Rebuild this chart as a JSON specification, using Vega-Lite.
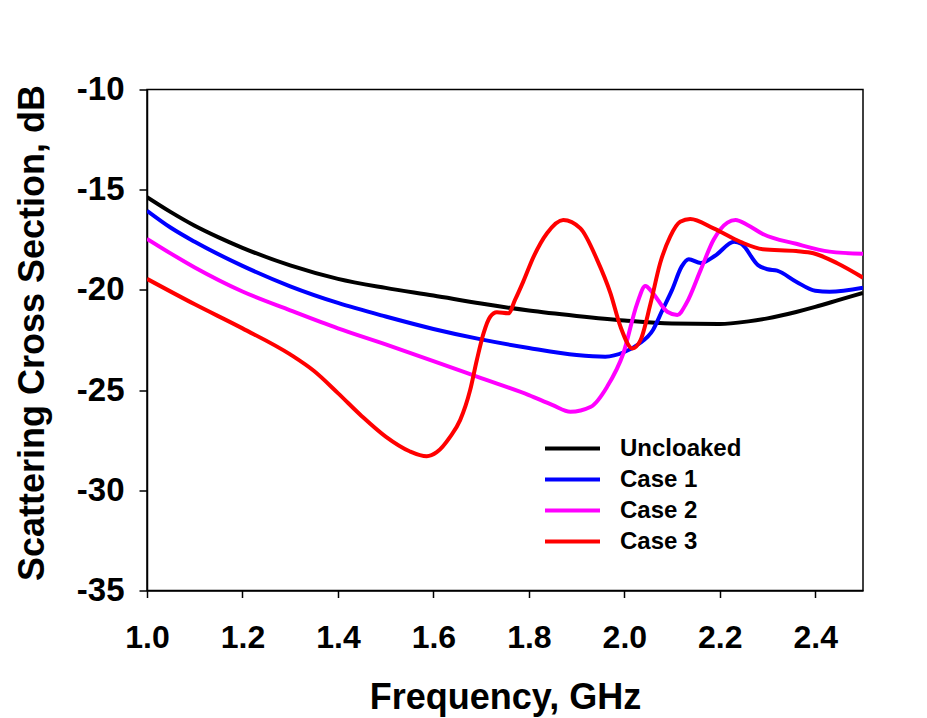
{
  "$schema": "https://vega.github.io/schema/vega-lite/v6.json",
  "width": 716,
  "height": 501,
  "autosize": {"type": "none"},
  "padding": {"left": 147, "top": 89.5, "right": 64, "bottom": 127.5},
  "background": "white",
  "config": {"view": {"stroke": "black", "strokeWidth": 1.5}, "font": "Liberation Sans"},
  "datasets": {
    "curves": [
      {"f": 1.0, "v": -15.37, "s": "Uncloaked"},
      {"f": 1.05, "v": -16.12, "s": "Uncloaked"},
      {"f": 1.1, "v": -16.8, "s": "Uncloaked"},
      {"f": 1.15, "v": -17.38, "s": "Uncloaked"},
      {"f": 1.2, "v": -17.9, "s": "Uncloaked"},
      {"f": 1.3, "v": -18.78, "s": "Uncloaked"},
      {"f": 1.4, "v": -19.45, "s": "Uncloaked"},
      {"f": 1.5, "v": -19.9, "s": "Uncloaked"},
      {"f": 1.6, "v": -20.28, "s": "Uncloaked"},
      {"f": 1.7, "v": -20.68, "s": "Uncloaked"},
      {"f": 1.8, "v": -21.03, "s": "Uncloaked"},
      {"f": 1.9, "v": -21.3, "s": "Uncloaked"},
      {"f": 2.0, "v": -21.53, "s": "Uncloaked"},
      {"f": 2.1, "v": -21.68, "s": "Uncloaked"},
      {"f": 2.2, "v": -21.7, "s": "Uncloaked"},
      {"f": 2.26, "v": -21.57, "s": "Uncloaked"},
      {"f": 2.3, "v": -21.42, "s": "Uncloaked"},
      {"f": 2.36, "v": -21.1, "s": "Uncloaked"},
      {"f": 2.4, "v": -20.85, "s": "Uncloaked"},
      {"f": 2.45, "v": -20.5, "s": "Uncloaked"},
      {"f": 2.5, "v": -20.15, "s": "Uncloaked"},

      {"f": 1.0, "v": -16.05, "s": "Case 1"},
      {"f": 1.05, "v": -16.9, "s": "Case 1"},
      {"f": 1.1, "v": -17.6, "s": "Case 1"},
      {"f": 1.2, "v": -18.8, "s": "Case 1"},
      {"f": 1.3, "v": -19.82, "s": "Case 1"},
      {"f": 1.4, "v": -20.65, "s": "Case 1"},
      {"f": 1.5, "v": -21.33, "s": "Case 1"},
      {"f": 1.6, "v": -21.95, "s": "Case 1"},
      {"f": 1.7, "v": -22.47, "s": "Case 1"},
      {"f": 1.8, "v": -22.9, "s": "Case 1"},
      {"f": 1.9, "v": -23.25, "s": "Case 1"},
      {"f": 1.96, "v": -23.33, "s": "Case 1"},
      {"f": 2.0, "v": -23.1, "s": "Case 1"},
      {"f": 2.03, "v": -22.7, "s": "Case 1"},
      {"f": 2.06, "v": -22.0, "s": "Case 1"},
      {"f": 2.08, "v": -21.0, "s": "Case 1"},
      {"f": 2.1, "v": -20.0, "s": "Case 1"},
      {"f": 2.12, "v": -18.84, "s": "Case 1"},
      {"f": 2.135, "v": -18.47, "s": "Case 1"},
      {"f": 2.16, "v": -18.66, "s": "Case 1"},
      {"f": 2.19, "v": -18.3, "s": "Case 1"},
      {"f": 2.23, "v": -17.6, "s": "Case 1"},
      {"f": 2.245, "v": -17.7, "s": "Case 1"},
      {"f": 2.28, "v": -18.76, "s": "Case 1"},
      {"f": 2.3, "v": -18.97, "s": "Case 1"},
      {"f": 2.32, "v": -19.04, "s": "Case 1"},
      {"f": 2.36, "v": -19.59, "s": "Case 1"},
      {"f": 2.4, "v": -20.04, "s": "Case 1"},
      {"f": 2.43, "v": -20.09, "s": "Case 1"},
      {"f": 2.5, "v": -19.89, "s": "Case 1"},

      {"f": 1.0, "v": -17.45, "s": "Case 2"},
      {"f": 1.1, "v": -18.88, "s": "Case 2"},
      {"f": 1.2, "v": -20.08, "s": "Case 2"},
      {"f": 1.3, "v": -21.02, "s": "Case 2"},
      {"f": 1.4, "v": -21.92, "s": "Case 2"},
      {"f": 1.5, "v": -22.72, "s": "Case 2"},
      {"f": 1.6, "v": -23.55, "s": "Case 2"},
      {"f": 1.7, "v": -24.4, "s": "Case 2"},
      {"f": 1.8, "v": -25.25, "s": "Case 2"},
      {"f": 1.85, "v": -25.75, "s": "Case 2"},
      {"f": 1.887, "v": -26.08, "s": "Case 2"},
      {"f": 1.93, "v": -25.83, "s": "Case 2"},
      {"f": 1.964, "v": -24.83, "s": "Case 2"},
      {"f": 1.998, "v": -23.16, "s": "Case 2"},
      {"f": 2.027, "v": -20.67, "s": "Case 2"},
      {"f": 2.044, "v": -19.8, "s": "Case 2"},
      {"f": 2.06, "v": -20.17, "s": "Case 2"},
      {"f": 2.09, "v": -21.09, "s": "Case 2"},
      {"f": 2.111, "v": -21.25, "s": "Case 2"},
      {"f": 2.13, "v": -20.67, "s": "Case 2"},
      {"f": 2.16, "v": -19.0, "s": "Case 2"},
      {"f": 2.187, "v": -17.5, "s": "Case 2"},
      {"f": 2.216, "v": -16.64, "s": "Case 2"},
      {"f": 2.233, "v": -16.51, "s": "Case 2"},
      {"f": 2.258, "v": -16.76, "s": "Case 2"},
      {"f": 2.29, "v": -17.21, "s": "Case 2"},
      {"f": 2.36, "v": -17.7, "s": "Case 2"},
      {"f": 2.43, "v": -18.09, "s": "Case 2"},
      {"f": 2.5, "v": -18.2, "s": "Case 2"},

      {"f": 1.0, "v": -19.45, "s": "Case 3"},
      {"f": 1.1, "v": -20.72, "s": "Case 3"},
      {"f": 1.2, "v": -21.92, "s": "Case 3"},
      {"f": 1.3, "v": -23.22, "s": "Case 3"},
      {"f": 1.35, "v": -24.05, "s": "Case 3"},
      {"f": 1.4, "v": -25.15, "s": "Case 3"},
      {"f": 1.45, "v": -26.3, "s": "Case 3"},
      {"f": 1.5, "v": -27.32, "s": "Case 3"},
      {"f": 1.55, "v": -28.05, "s": "Case 3"},
      {"f": 1.586, "v": -28.3, "s": "Case 3"},
      {"f": 1.607, "v": -28.1, "s": "Case 3"},
      {"f": 1.635, "v": -27.33, "s": "Case 3"},
      {"f": 1.656, "v": -26.5, "s": "Case 3"},
      {"f": 1.677, "v": -25.0, "s": "Case 3"},
      {"f": 1.691, "v": -23.5, "s": "Case 3"},
      {"f": 1.705, "v": -22.17, "s": "Case 3"},
      {"f": 1.719, "v": -21.34, "s": "Case 3"},
      {"f": 1.733, "v": -21.12, "s": "Case 3"},
      {"f": 1.757, "v": -21.17, "s": "Case 3"},
      {"f": 1.771, "v": -20.5, "s": "Case 3"},
      {"f": 1.788, "v": -19.6, "s": "Case 3"},
      {"f": 1.81, "v": -18.34, "s": "Case 3"},
      {"f": 1.838, "v": -17.17, "s": "Case 3"},
      {"f": 1.872, "v": -16.51, "s": "Case 3"},
      {"f": 1.908, "v": -16.93, "s": "Case 3"},
      {"f": 1.943, "v": -18.5, "s": "Case 3"},
      {"f": 1.971, "v": -20.17, "s": "Case 3"},
      {"f": 1.992, "v": -21.84, "s": "Case 3"},
      {"f": 2.017, "v": -22.92, "s": "Case 3"},
      {"f": 2.034, "v": -22.5, "s": "Case 3"},
      {"f": 2.055, "v": -20.67, "s": "Case 3"},
      {"f": 2.075, "v": -18.67, "s": "Case 3"},
      {"f": 2.096, "v": -17.34, "s": "Case 3"},
      {"f": 2.117, "v": -16.6, "s": "Case 3"},
      {"f": 2.138, "v": -16.46, "s": "Case 3"},
      {"f": 2.187, "v": -16.93, "s": "Case 3"},
      {"f": 2.243, "v": -17.6, "s": "Case 3"},
      {"f": 2.29, "v": -17.97, "s": "Case 3"},
      {"f": 2.36, "v": -18.06, "s": "Case 3"},
      {"f": 2.396, "v": -18.17, "s": "Case 3"},
      {"f": 2.446, "v": -18.67, "s": "Case 3"},
      {"f": 2.5, "v": -19.39, "s": "Case 3"}
    ]
  },
  "data": {"name": "curves"},
  "mark": {"type": "line", "interpolate": "monotone", "strokeWidth": 4, "clip": true},
  "encoding": {
    "x": {
      "field": "f",
      "type": "quantitative",
      "scale": {"domain": [1, 2.5], "nice": false, "zero": false},
      "axis": {
        "values": [1.0, 1.2, 1.4, 1.6, 1.8, 2.0, 2.2, 2.4],
        "format": ".1f",
        "grid": false,
        "domainColor": "black",
        "domainWidth": 1.5,
        "tickColor": "black",
        "tickWidth": 1.5,
        "tickSize": 7,
        "labelFont": "Liberation Sans",
        "labelFontSize": 32,
        "labelFontWeight": "bold",
        "labelColor": "black",
        "labelBaseline": "middle",
        "labelPadding": 40,
        "labelFlush": false,
        "labelOverlap": false,
        "title": "Frequency, GHz",
        "titleFont": "Liberation Sans",
        "titleFontSize": 36,
        "titleFontWeight": "bold",
        "titleColor": "black",
        "titleBaseline": "middle",
        "titleX": 358,
        "titleY": 107
      }
    },
    "y": {
      "field": "v",
      "type": "quantitative",
      "scale": {"domain": [-35, -10], "nice": false, "zero": false},
      "axis": {
        "values": [-35, -30, -25, -20, -15, -10],
        "labelExpr": "toString(datum.value)",
        "grid": false,
        "domainColor": "black",
        "domainWidth": 1.5,
        "tickColor": "black",
        "tickWidth": 1.5,
        "tickSize": 8,
        "labelFont": "Liberation Sans",
        "labelFontSize": 33,
        "labelFontWeight": "bold",
        "labelColor": "black",
        "labelPadding": 15,
        "labelFlush": false,
        "labelOverlap": false,
        "title": "Scattering Cross Section, dB",
        "titleFont": "Liberation Sans",
        "titleFontSize": 36,
        "titleFontWeight": "bold",
        "titleColor": "black",
        "titleAngle": 270,
        "titleAlign": "center",
        "titleBaseline": "middle",
        "titleX": -115,
        "titleY": 243
      }
    },
    "color": {
      "field": "s",
      "type": "nominal",
      "sort": ["Uncloaked", "Case 1", "Case 2", "Case 3"],
      "scale": {
        "domain": ["Uncloaked", "Case 1", "Case 2", "Case 3"],
        "range": ["#000000", "#0000ff", "#ff00ff", "#ff0000"]
      },
      "legend": {
        "orient": "none",
        "legendX": 396,
        "legendY": 347,
        "title": null,
        "padding": 0,
        "symbolType": "stroke",
        "symbolSize": 3025,
        "symbolStrokeWidth": 4,
        "clipHeight": 24,
        "rowPadding": 7,
        "labelFont": "Liberation Sans",
        "labelFontSize": 24,
        "labelFontWeight": "bold",
        "labelColor": "black",
        "labelOffset": 18
      }
    }
  }
}
